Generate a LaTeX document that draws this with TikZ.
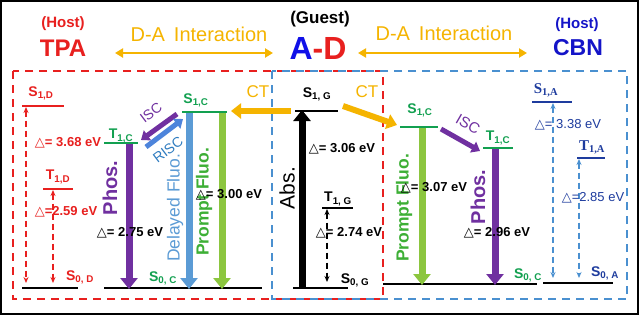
\documentclass[tikz,border=0pt]{standalone}
\usepackage{fontspec}
\setmainfont{Liberation Sans}
\newfontfamily\symf{DejaVu Sans}
\newfontfamily\serf{Liberation Serif}
\usetikzlibrary{arrows.meta}
\definecolor{cred}{HTML}{E8201F}
\definecolor{corange}{HTML}{F5B400}
\definecolor{chost}{HTML}{1414C8}
\definecolor{cA}{HTML}{1010E8}
\definecolor{cgreen}{HTML}{12A050}
\definecolor{cltgreen}{HTML}{8CC63F}
\definecolor{cptext}{HTML}{3DAF35}
\definecolor{cpurple}{HTML}{7030A0}
\definecolor{cltblue}{HTML}{5B9BD5}
\definecolor{crisc}{HTML}{2F7CC0}
\definecolor{cbox}{HTML}{4A90D0}
\definecolor{cnavy}{HTML}{1E3C9E}
\newcommand\dt{{\symf\mdseries △}}
\tikzset{
  txt/.style={inner sep=0pt, outer sep=0pt},
  lvlab/.style={txt, font=\fontsize{14}{14}\selectfont\bfseries},
  delt/.style={txt, font=\fontsize{13}{13}\selectfont\bfseries},
  levelline/.style={line width=1.6pt},
  bigarrow/.style={line width=7pt, -{Triangle[width=17pt,length=11pt]}},
  diagarrow/.style={line width=5pt, -{Triangle[width=12pt,length=8pt]}},
  dasharrow/.style={line width=1.3pt, dash pattern=on 6pt off 4pt, {Stealth[length=6pt,width=5pt]}-{Stealth[length=6pt,width=5pt]}},
  boxline/.style={line width=2pt, dash pattern=on 8pt off 6pt},
  ctarrow/.style={corange, line width=6pt, -{Triangle[width=15pt,length=10pt]}},
  daarrow/.style={corange, line width=2.6pt, {Triangle[width=9pt,length=8pt]}-{Triangle[width=9pt,length=8pt]}},
}
\begin{document}
\begin{tikzpicture}[x=1pt,y=-1pt]
\useasboundingbox (0,0) rectangle (640,316);
\fill[white] (0,0) rectangle (640,316);
\draw[line width=1.8pt] (1,1) rectangle (638,314);

% dashed boxes
\draw[boxline, cred] (13,71) rectangle (383,299);
\draw[boxline, cbox] (272,71) rectangle (627,299);

% ---------- titles ----------
\node[txt, cred, font=\fontsize{15}{15}\selectfont\bfseries] (hostL) at (63,24) {(Host)};
\node[txt, cred, font=\fontsize{24}{24}\selectfont\bfseries] (tpa) at (63,48) {TPA};
\node[txt, corange, font=\fontsize{20}{20}\selectfont] (daL) at (199,34) {D-A\, Interaction};
\coordinate (daL1) at (115,53); \coordinate (daL2) at (273,53);
\draw[daarrow] (daL1) -- (daL2);
\node[txt, font=\fontsize{17}{17}\selectfont\bfseries] (guest) at (320,19) {(Guest)};
\node[txt, font=\fontsize{32}{32}\selectfont\bfseries] (ad) at (318,48) {\textcolor{cA}{A}\textcolor{cred}{-D}};
\node[txt, corange, font=\fontsize{20}{20}\selectfont] (daR) at (444,33) {D-A\, Interaction};
\coordinate (daR1) at (358,53); \coordinate (daR2) at (527,53);
\draw[daarrow] (daR1) -- (daR2);
\node[txt, chost, font=\fontsize{15}{15}\selectfont\bfseries] (hostR) at (577,25) {(Host)};
\node[txt, chost, font=\fontsize{23}{23}\selectfont\bfseries] (cbn) at (578,48) {CBN};

% ---------- TPA (donor host) ----------
\draw[levelline, cred] (22,106) -- (64,106);
\draw[levelline, cred] (43,189) -- (73,189);
\draw[levelline] (22,288) -- (78,288);
\node[lvlab, cred] (s1d) at (41,93) {S\textsubscript{1,D}};
\node[lvlab, cred] (t1d) at (58,177) {T\textsubscript{1,D}};
\node[lvlab, cred] (s0d) at (80,277) {S\textsubscript{0, D}};
\coordinate (ad1t) at (26,107); \coordinate (ad1b) at (26,283);
\coordinate (ad2t) at (53,190); \coordinate (ad2b) at (53,283);
\draw[dasharrow, cred] (ad1t) -- (ad1b);
\draw[dasharrow, cred] (ad2t) -- (ad2b);
\node[delt, cred, fill=white, inner sep=0.5pt] (dtpa1) at (68,143) {\dt= 3.68 eV};
\node[delt, cred] (dtpa2) at (66,212) {\dt=2.59 eV};

% ---------- left complex ----------
\draw[levelline, cgreen] (104,143) -- (138,143);
\draw[levelline, cgreen] (182,112) -- (227,112);
\draw[levelline] (104,288) -- (262,288);
\node[lvlab, cgreen] (t1cL) at (121,136) {T\textsubscript{1,C}};
\node[lvlab, cgreen] (s1cL) at (196,100) {S\textsubscript{1,C}};
\node[lvlab, cgreen] (s0cL) at (163,278) {S\textsubscript{0, C}};
\coordinate (phL1) at (129,144); \coordinate (phL2) at (129,289);
\draw[bigarrow, cpurple] (phL1) -- (phL2);
\coordinate (dfL1) at (189,113); \coordinate (dfL2) at (189,289);
\draw[bigarrow, cltblue] (dfL1) -- (dfL2);
\coordinate (pfL1) at (222,113); \coordinate (pfL2) at (222,289);
\draw[bigarrow, cltgreen] (pfL1) -- (pfL2);
\coordinate (isc1) at (177,114); \coordinate (isc2) at (141,140);
\draw[diagarrow, cpurple] (isc1) -- (isc2);
\coordinate (risc1) at (146,147); \coordinate (risc2) at (183,119);
\draw[diagarrow, cltblue!85!blue] (risc1) -- (risc2);
\node[txt, cpurple, rotate=37, font=\fontsize{14}{14}\selectfont] (iscL) at (151,113) {ISC};
\node[txt, crisc, rotate=37, font=\fontsize{14}{14}\selectfont] (riscL) at (168,150) {RISC};
\node[txt, cpurple, rotate=90, font=\fontsize{20}{20}\selectfont\bfseries] (phosL) at (110,188) {Phos.};
\node[txt, cltblue, rotate=90, font=\fontsize{17.5}{17.5}\selectfont] (delL) at (175,208) {Delayed Fluo.};
\node[txt, cptext, rotate=90, font=\fontsize{17.5}{17.5}\selectfont\bfseries] (prL) at (204,202) {Prompt Fluo.};
\node[delt] (d275) at (130,233) {\dt= 2.75 eV};
\node[delt] (d300) at (229,195) {\dt= 3.00 eV};

% CT arrows
\coordinate (ctL1) at (291,111); \coordinate (ctL2) at (231,111);
\draw[ctarrow] (ctL1) -- (ctL2);
\node[txt, corange, font=\fontsize{17}{17}\selectfont] (ctLt) at (258,92) {CT};
\coordinate (ctR1) at (343,106); \coordinate (ctR2) at (397,125);
\draw[ctarrow] (ctR1) -- (ctR2);
\node[txt, corange, font=\fontsize{17}{17}\selectfont] (ctRt) at (367,92) {CT};

% ---------- guest ----------
\draw[levelline] (295,111) -- (338,111);
\draw[levelline] (322,208) -- (353,208);
\draw[levelline] (293,288) -- (348,288);
\node[lvlab] (s1g) at (317,94) {S\textsubscript{1, G}};
\node[lvlab] (t1g) at (338,199) {T\textsubscript{1, G}};
\node[lvlab] (s0g) at (355,280) {S\textsubscript{0, G}};
\coordinate (abs1) at (302,288); \coordinate (abs2) at (302,110);
\draw[bigarrow] (abs1) -- (abs2);
\node[txt, rotate=90, font=\fontsize{21}{21}\selectfont] (abst) at (287,188) {Abs.};
\node[delt] (d306) at (342,149) {\dt= 3.06 eV};
\node[delt] (d274) at (349,233) {\dt= 2.74 eV};
\coordinate (ag1) at (327,209); \coordinate (ag2) at (327,282);
\draw[dasharrow] (ag1) -- (ag2);

% ---------- right complex ----------
\draw[levelline, cgreen] (400,127) -- (438,127);
\draw[levelline, cgreen] (483,148) -- (513,148);
\draw[levelline] (383,284) -- (537,284);
\node[lvlab, cgreen] (s1cR) at (420,110) {S\textsubscript{1,C}};
\node[lvlab, cgreen] (t1cR) at (498,138) {T\textsubscript{1,C}};
\node[lvlab, cgreen] (s0cR) at (528,275) {S\textsubscript{0, C}};
\coordinate (pfR1) at (422,128); \coordinate (pfR2) at (422,285);
\draw[bigarrow, cltgreen] (pfR1) -- (pfR2);
\coordinate (phR1) at (495,149); \coordinate (phR2) at (495,285);
\draw[bigarrow, cpurple] (phR1) -- (phR2);
\coordinate (iscR1) at (441,129); \coordinate (iscR2) at (480,151);
\draw[diagarrow, cpurple] (iscR1) -- (iscR2);
\node[txt, cpurple, rotate=-30, font=\fontsize{15}{15}\selectfont] (iscRt) at (468,124) {ISC};
\node[txt, cptext, rotate=90, font=\fontsize{17.5}{17.5}\selectfont\bfseries] (prR) at (404,208) {Prompt Fluo.};
\node[txt, cpurple, rotate=90, font=\fontsize{20}{20}\selectfont\bfseries] (phosR) at (478,197) {Phos.};
\node[delt] (d307) at (434,188) {\dt= 3.07 eV};
\node[delt] (d296) at (497,233) {\dt= 2.96 eV};

% ---------- CBN (acceptor host) ----------
\draw[levelline, cnavy] (532,102) -- (572,102);
\draw[levelline, cnavy] (577,158) -- (605,158);
\draw[levelline] (543,283) -- (613,283);
\node[txt, cnavy, font=\fontsize{15}{15}\selectfont\serf\bfseries] (s1a) at (546,90) {S\textsubscript{1,A}};
\node[txt, cnavy, font=\fontsize{15}{15}\selectfont\serf\bfseries] (t1a) at (592,147) {T\textsubscript{1,A}};
\node[lvlab, cnavy] (s0a) at (605,273) {S\textsubscript{0, A}};
\coordinate (aa1t) at (553,103); \coordinate (aa1b) at (553,278);
\coordinate (aa2t) at (579,159); \coordinate (aa2b) at (579,278);
\draw[dasharrow, cbox] (aa1t) -- (aa1b);
\draw[dasharrow, cbox] (aa2t) -- (aa2b);
\node[delt, cnavy, font=\fontsize{13}{13}\selectfont\mdseries] (d338) at (568,125) {\dt= 3.38 eV};
\node[delt, cnavy, font=\fontsize{13}{13}\selectfont\mdseries] (d285) at (593,198) {\dt=2.85 eV};
\end{tikzpicture}
\end{document}
